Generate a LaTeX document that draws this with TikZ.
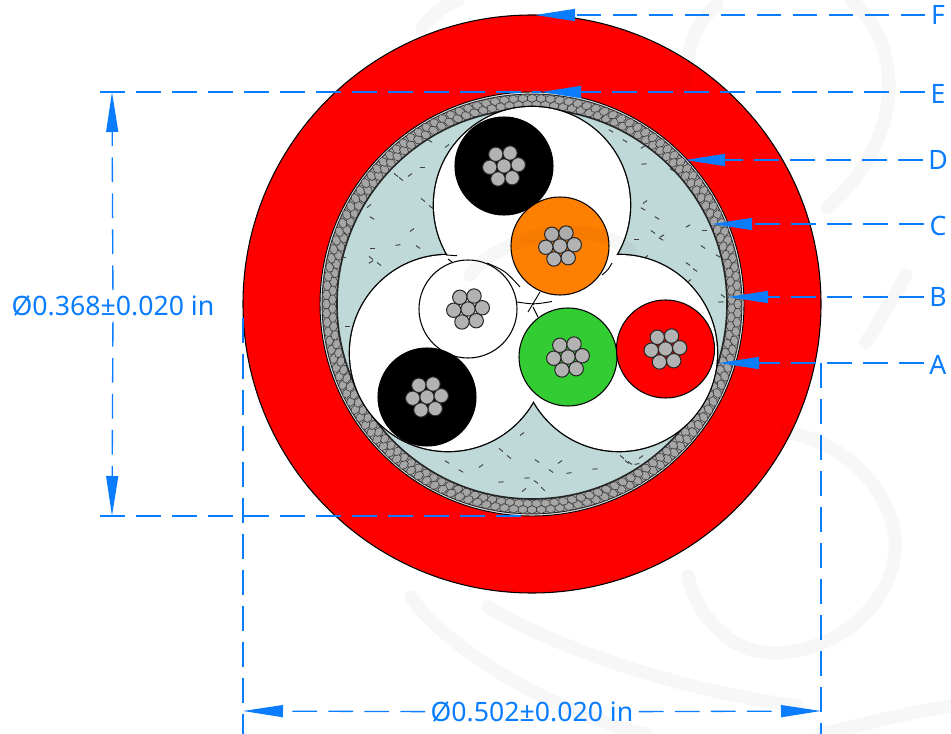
\documentclass[tikz,border=0pt]{standalone}
\usepackage{fontspec}
\setmainfont{Noto Sans}
\usepackage{tikz}
\usetikzlibrary{arrows.meta}
\definecolor{dimblue}{HTML}{0A7DFF}
\definecolor{fillerblue}{HTML}{BFD8D8}
\definecolor{coregreen}{HTML}{33CC33}
\definecolor{coreorange}{HTML}{FF8000}
\tikzset{
  dimlabel/.style={text=dimblue, font=\fontsize{20}{24}\selectfont, inner sep=4pt},
  leader/.style={draw=dimblue, line width=1pt, dash pattern=on 18.5pt off 8.5pt},
  tipped/.style={leader, -{Triangle[length=30pt, width=9pt, fill=dimblue, color=dimblue]}},
  core/.style={circle, draw=black, line width=0.8pt, inner sep=0pt, outer sep=0pt, minimum size=73.5pt},
  strand/.style={draw=black!85, fill=black!30, line width=0.75pt},
  cell/.style={draw=black!75, fill=black!35, line width=0.45pt},
  fibre/.style={draw=black!75, line width=0.7pt},
  unit/.style={draw=black, line width=0.7pt},
  swirl/.style={draw=black, draw opacity=0.03, line width=10pt, line cap=round}
}
\newcommand{\strands}[1]{
  \draw[strand] (#1) circle (7.2);
  \foreach \a in {-5,55,...,295} {\draw[strand] (#1) ++(\a:14.3) circle (7.2);}
}
\begin{document}
\begin{tikzpicture}[x=0.75pt, y=-0.75pt]
\useasboundingbox (0,0) rectangle (951,734);

\fill[white] (0,0) rectangle (951,734);

\coordinate (centre) at (532,304);

\draw[black, fill=red, line width=0.8pt] (centre) circle (289);
\draw[black, fill=black!10, line width=0.7pt] (centre) circle (212);
\draw[black!85, fill=black!35, line width=0.7pt] (centre) circle (209.9);
\foreach \k in {0,...,279} {
  \pgfmathsetmacro{\ang}{\k*1.285714}
  \pgfmathsetmacro{\rad}{isodd(\k) ? 199.6 : 205.7}
  \begin{scope}[shift={(centre)}, shift={(\ang:\rad)}, rotate=\ang]
    \draw[cell] (4.1,0) -- (2,4.5) -- (-2,4.5) -- (-4.1,0) -- (-2,-4.5) -- (2,-4.5) -- cycle;
  \end{scope}
}
\draw[black!85, fill=fillerblue, line width=1.2pt] (centre) circle (195);

% filler fibres
\foreach \x/\y/\a in {430/141/30, 447/146/-35, 422/167/0, 396/175/40, 401/179/40, 410/175/-35, 369/206/-40, 372/218/30, 423/200/40, 431/207/40, 412/230/-35, 398/245/-10, 418/247/35, 372/248/0, 371/258/40, 371/262/-30, 379/264/40, 343/257/0, 347/326/0,
  522/434/-35, 501/450/40, 509/457/40, 537/461/35, 560/462/-35, 447/462/30, 461/471/30, 481/466/-35, 551/471/35, 569/473/-10, 595/469/-5, 527/478/-5, 536/482/35, 501/482/-5, 543/489/45, 524/490/-40, 622/457/40, 627/462/35, 630/463/35, 641/457/-35, 637/464/-10,
  611/131/30, 625/141/30, 643/147/-35, 644/164/-5, 672/170/30, 645/202/-35, 643/209/30, 657/218/30, 653/232/35, 662/236/-30, 661/239/30, 636/239/0, 688/226/-30, 704/230/0, 703/247/35, 718/256/30, 688/264/35, 695/270/35, 689/281/-35, 723/296/35, 721/302/-5, 646/257/-40} {
  \draw[fibre] (\x,\y) ++(\a:2.5) -- ++(\a+180:5);
}

% three bundles, outline of the union
\draw[unit, line width=2pt] (532,205) circle (98);
\draw[unit, line width=2pt] (448,353) circle (98);
\draw[unit, line width=2pt] (619,353) circle (98);
\fill[white] (532,205) circle (98);
\fill[white] (448,353) circle (98);
\fill[white] (619,353) circle (98);

\draw[unit] (446,255) -- (457,255.7);
\draw[unit] (487,263) .. controls (505.3,270.9) .. (520,287);
\draw[unit] (448,259) -- (452,262);
\draw[unit] (517,302) .. controls (534,304.5) .. (552,301.5);
\draw[unit] (540,292) -- (528,312);
\draw[unit] (533,307) -- (538,317);
\draw[unit] (612,263) .. controls (608,270) .. (602,275);

\node at (504,166)[core, fill=black] (coreBlackA) {};
\node at (560,246)[core, fill=coreorange] (coreOrange) {};
\node at (468,309)[core, fill=white] (coreWhite) {};
\node at (427,397)[core, fill=black] (coreBlackB) {};
\node at (568,357)[core, fill=coregreen] (coreGreen) {};
\node at (665.5,349)[core, fill=red] (coreRed) {};

\strands{coreBlackA}
\strands{coreOrange}
\strands{coreWhite}
\strands{coreBlackB}
\strands{coreGreen}
\strands{coreRed}

% watermark
\draw[swirl] (851,0) .. controls (905,45) and (905,140) .. (827,208);
\draw[swirl] (717,4) .. controls (700,20) and (686,40) .. (686,85);
\draw[swirl] (422,27) .. controls (432,15) and (445,5) .. (458,0);
\draw[swirl] (786,432) .. controls (860,445) and (900,510) .. (895,551) .. controls (890,610) and (830,655) .. (769,653) .. controls (725,650) and (695,610) .. (688,576);
\draw[swirl] (411,597) .. controls (440,640) and (540,710) .. (646,734);
\draw[swirl] (488,607) .. controls (560,650) and (680,690) .. (797,706);
\draw[swirl] (822,734) .. controls (860,725) and (910,712) .. (951,706);
\draw[swirl] (470,275) .. controls (500,235) and (590,215) .. (630,251);
\draw[swirl] (866,342) .. controls (880,320) and (895,295) .. (906,275);

% callouts
\node at (938,15)[dimlabel] (labelF) {F};
\node at (938,94)[dimlabel] (labelE) {E};
\node at (938,160)[dimlabel] (labelD) {D};
\node at (938,226)[dimlabel] (labelC) {C};
\node at (938,297)[dimlabel] (labelB) {B};
\node at (938,365)[dimlabel] (labelA) {A};

\coordinate (tipF) at (535,15);
\coordinate (tipE) at (541,92);
\coordinate (tipD) at (685,160);
\coordinate (tipC) at (712,224);
\coordinate (tipB) at (728,297);
\coordinate (tipA) at (719,363);

\draw[tipped] (labelF.west |- tipF) -- (tipF);
\draw[tipped] (labelE.west |- tipE) -- (tipE);
\draw[tipped] (labelD.west |- tipD) -- (tipD);
\draw[tipped] (labelC.west |- tipC) -- (tipC);
\draw[tipped] (labelB.west |- tipB) -- (tipB);
\draw[tipped] (labelA.west |- tipA) -- (tipA);

% dimensions
\node at (113,306)[dimlabel] (dimInner) {Ø0.368±0.020 in};
\node at (532,712)[dimlabel] (dimOuter) {Ø0.502±0.020 in};

\coordinate (innerTop) at (112,92);
\coordinate (innerBot) at (112,516);
\coordinate (outerL) at (243,711);
\coordinate (outerR) at (821,711);

\draw[tipped] (dimInner) -- (innerTop);
\draw[tipped] (dimInner) -- (innerBot);
\draw[tipped] (dimOuter) -- (outerL);
\draw[tipped] (dimOuter) -- (outerR);

\coordinate (extTop) at (100,92);
\coordinate (extBot) at (100,516);
\coordinate (extBotEnd) at (525,516);
\coordinate (extLtop) at (243,318);
\coordinate (extLbot) at (243,734);
\coordinate (extRtop) at (821,363);
\coordinate (extRbot) at (821,734);

\draw[leader] (extTop) -- (tipE);
\draw[leader] (extBot) -- (extBotEnd);
\draw[leader] (extLtop) -- (extLbot);
\draw[leader] (extRtop) -- (extRbot);

\end{tikzpicture}
\end{document}
